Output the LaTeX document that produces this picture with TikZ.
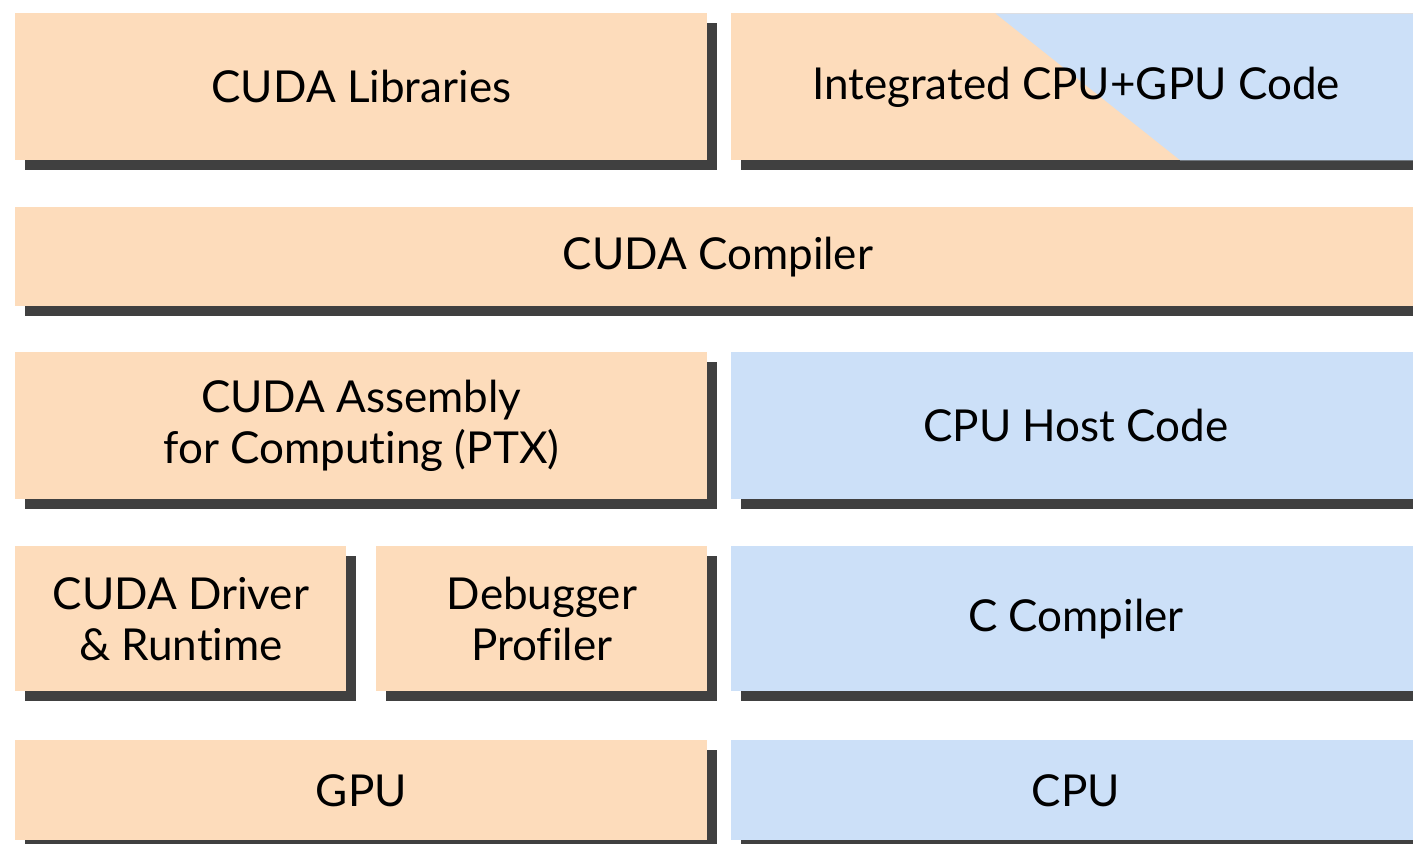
\documentclass[tikz,border=0pt]{standalone}
\usepackage{fontspec}
\setmainfont{Lato}[Ligatures=NoCommon]
\usetikzlibrary{shadows}
\definecolor{gpupeach}{HTML}{FDDCBB}
\definecolor{cpublue}{HTML}{CCE0F8}
\definecolor{shadowgray}{HTML}{404040}

\begin{document}
\begin{tikzpicture}[x=0.5pt,y=-0.5pt,font=\fontsize{22}{25.5}\selectfont]
    \tikzstyle{layer}=[inner sep=0,align=center,anchor=north west,drop shadow={shadow xshift=5pt,shadow yshift=-5pt,fill=shadowgray,opacity=1}]
    \tikzstyle{gpu layer}=[layer,fill=gpupeach]
    \tikzstyle{cpu layer}=[layer,fill=cpublue]
    \tikzstyle{half}=[minimum width=346pt]
    \tikzstyle{full}=[minimum width=702.5pt]
    \tikzstyle{tall}=[minimum height=73.5pt]
    \tikzstyle{flat}=[minimum height=50pt]
    \useasboundingbox (0,0) rectangle (1413,844);
    \clip (0,0) rectangle (1413,844);

    % top row
    \node(libs)[gpu layer,half,tall] at (15,13) {CUDA Libraries};
    \node(integ)[gpu layer,minimum width=344.5pt,tall,
        path picture={\fill[cpublue] ([xshift=132pt]path picture bounding box.north west)
            -- (path picture bounding box.north east) -- (path picture bounding box.south east)
            -- ([xshift=224.5pt]path picture bounding box.south west) -- cycle;}] at (731,13) {Integrated CPU+GPU Code};

    % compiler
    \node(nvcc)[gpu layer,full,minimum height=49.5pt] at (15,207) {CUDA Compiler};

    % middle rows
    \node(ptx)[gpu layer,half,tall] at (15,352) {CUDA Assembly\\for Computing (PTX)};
    \node(host)[cpu layer,minimum width=344.5pt,tall] at (731,352) {CPU Host Code};
    \node(driver)[gpu layer,minimum width=165.5pt,minimum height=72.5pt] at (15,546) {CUDA Driver\\\& Runtime};
    \node(debug)[gpu layer,minimum width=165.5pt,minimum height=72.5pt] at (376,546) {Debugger\\Profiler};
    \node(ccomp)[cpu layer,minimum width=344.5pt,minimum height=72.5pt] at (731,546) {C Compiler};

    % hardware
    \node(gpu)[gpu layer,half,flat] at (15,740) {GPU};
    \node(cpu)[cpu layer,minimum width=344.5pt,flat] at (731,740) {CPU};
\end{tikzpicture}
\end{document}
